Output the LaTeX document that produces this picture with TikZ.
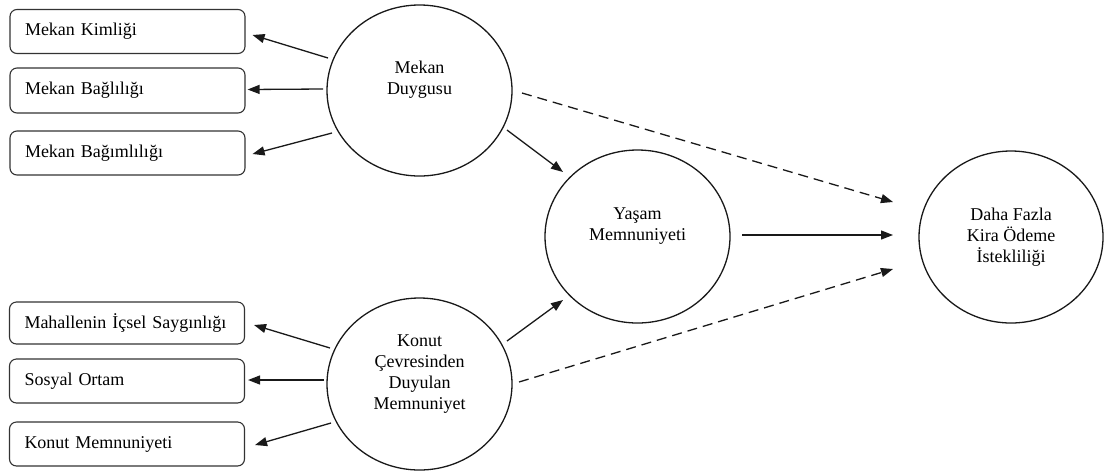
\documentclass[tikz,border=0pt]{standalone}
\usepackage{fontspec}
\setmainfont{Liberation Serif}
\usetikzlibrary{shapes.geometric,arrows.meta,calc}
\begin{document}
\begin{tikzpicture}[x=1pt,y=-1pt,
  every node/.style={font=\fontsize{18}{21}\selectfont},
  lbox/.style={draw=black!80,line width=1.1pt,rounded corners=7pt,minimum height=44pt,text width=205pt,align=left,inner xsep=15pt,inner ysep=0pt},
  latent/.style={draw=black!90,line width=1.3pt,ellipse,minimum width=185pt,minimum height=172pt,inner sep=0pt},
  lbl/.style={align=center,inner sep=0pt},
  arr/.style={line width=1.3pt,draw=black!90,-{Triangle[length=12pt,width=9pt]}},
  darr/.style={arr,dash pattern=on 10pt off 6pt}]
\fill[white] (0,0) rectangle (1105,475);
\useasboundingbox (0,0) rectangle (1105,475);

% boxes
\node[lbox] (b1) at (127.5,31.5) {Mekan Kimliği};
\node[lbox,minimum height=45pt] (b2) at (127.5,90.5) {Mekan Bağlılığı};
\node[lbox] (b3) at (127.5,153) {Mekan Bağımlılığı};
\node[lbox,minimum height=42pt] (b4) at (127,323) {Mahallenin İçsel Saygınlığı};
\node[lbox] (b5) at (127,381) {Sosyal Ortam};
\node[lbox] (b6) at (127,444) {Konut Memnuniyeti};

% latent ellipses
\node[latent,minimum height=171pt] (md) at (419.5,90.5) {};
\node[latent] (ks) at (419.5,384) {};
\node[latent,minimum height=173pt] (ym) at (637.5,236.5) {};
\node[latent,minimum width=184pt] (df) at (1011,237) {};

\node[lbl] (mdt) at (419.5,80) {Mekan\\Duygusu};
\node[lbl] (kst) at (419.5,374) {Konut\\Çevresinden\\Duyulan\\Memnuniyet};
\node[lbl] (ymt) at (637.5,226) {Yaşam\\Memnuniyeti};
\node[lbl] (dft) at (1011,237) {Daha Fazla\\Kira Ödeme\\İstekliliği};

% arrows to indicators
\draw[arr] ($(md)+(-91.5,-32.5)$) -- ($(b1.east)+(7,3.5)$);
\draw[arr] ($(md)+(-96.5,-1.5)$) -- ($(b2.east)+(2,-1)$);
\draw[arr] ($(md)+(-87.5,42.5)$) -- ($(b3.east)+(7,1)$);
\draw[arr] ($(ks)+(-89.5,-36)$) -- ($(b4.east)+(9,2)$);
\draw[arr] ($(ks)+(-95.5,-4)$) -- ($(b5.east)+(3,-1)$);
\draw[arr] ($(ks)+(-88.5,39)$) -- ($(b6.east)+(10,1)$);

% structural paths
\draw[arr] ($(md)+(87.5,39.5)$) -- ($(ym)+(-74.5,-64.5)$);
\draw[arr] ($(ks)+(87.5,-43)$) -- ($(ym)+(-74.5,63.5)$);
\draw[darr] ($(md)+(102.5,2.5)$) -- ($(df)+(-118,-35)$);
\draw[darr] ($(ks)+(99.5,-2)$) -- ($(df)+(-118,32)$);
\draw[arr] ($(ym)+(104.5,-1.5)$) -- ($(df)+(-118,-2)$);
\end{tikzpicture}
\end{document}
